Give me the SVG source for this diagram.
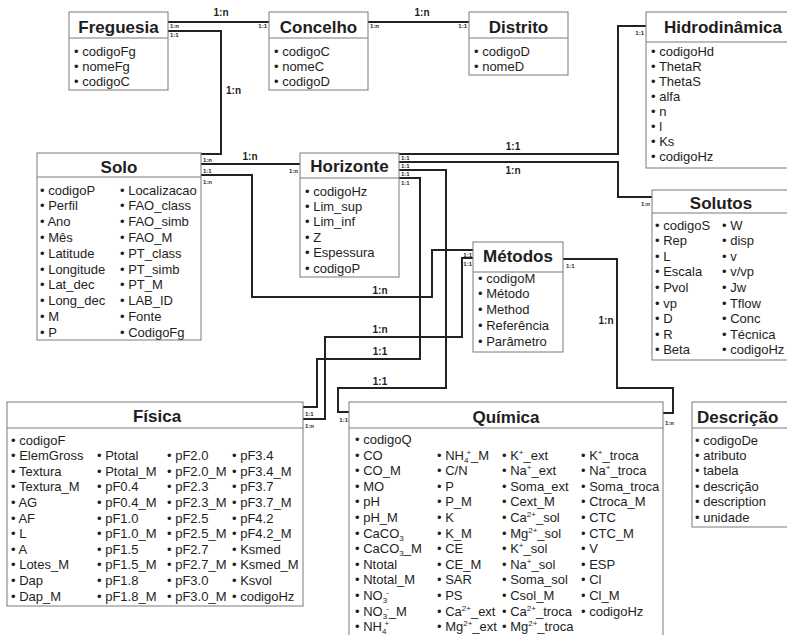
<svg xmlns="http://www.w3.org/2000/svg" width="787" height="635" viewBox="0 0 787 635">
<style>
.box{fill:#fff;stroke:#7a7a7a;stroke-width:1}
.hl{stroke:#7a7a7a;stroke-width:1}
.h{font:bold 17px "Liberation Sans",Arial,sans-serif;fill:#1e1e1e}
.t{font:13px "Liberation Sans",Arial,sans-serif;fill:#1e1e1e}
.b{font:bold 10px "Liberation Sans",Arial,sans-serif;fill:#1e1e1e}
.s{font:bold 6px "Liberation Sans",Arial,sans-serif;fill:#1e1e1e}
.c{fill:none;stroke:#222;stroke-width:2}
.m{text-anchor:middle}
.e{text-anchor:end}
.sb{font-size:8px;baseline-shift:-3px}
.sp{font-size:8px;baseline-shift:5px}
</style>
<rect width="787" height="635" fill="#fff"/>

<g id="connectors">
<path class="c" d="M168,22H269"/>
<path class="c" d="M368,22H469"/>
<path class="c" d="M168,31H221V154H201"/>
<path class="c" d="M201,164H300"/>
<path class="c" d="M201,175H252V297H432V250H473"/>
<path class="c" d="M399,154H618V26H646"/>
<path class="c" d="M399,162H618V197H652"/>
<path class="c" d="M399,170H446V388H338V412H349"/>
<path class="c" d="M399,178H420V359H317V407H303"/>
<path class="c" d="M473,258H462V337H325V419H303"/>
<path class="c" d="M563,259H617V388H673V413H663"/>
<text class="b m" x="221" y="16">1:n</text>
<text class="s" x="170" y="28">1:n</text>
<text class="s" x="170" y="37">1:1</text>
<text class="s e" x="267" y="28">1:1</text>
<text class="b m" x="422" y="16">1:n</text>
<text class="s" x="370" y="28">1:n</text>
<text class="s e" x="467" y="28">1:1</text>
<text class="b" x="226" y="94">1:n</text>
<text class="s" x="203" y="162">1:n</text>
<text class="b m" x="250" y="160">1:n</text>
<text class="s" x="203" y="173">1:1</text>
<text class="s e" x="298" y="173">1:n</text>
<text class="s" x="203" y="184">1:n</text>
<text class="b m" x="380" y="294">1:n</text>
<text class="s e" x="472" y="257">1:1</text>
<text class="b m" x="513" y="150">1:1</text>
<text class="s e" x="644" y="35">1:1</text>
<text class="b m" x="513" y="174">1:n</text>
<text class="s e" x="650" y="206">1:n</text>
<text class="s" x="401" y="160">1:1</text>
<text class="s" x="401" y="168">1:1</text>
<text class="s" x="401" y="176">1:1</text>
<text class="s" x="401" y="185">1:1</text>
<text class="b m" x="380" y="385">1:1</text>
<text class="s e" x="348" y="422">1:1</text>
<text class="b m" x="380" y="355">1:1</text>
<text class="s" x="305" y="416">1:1</text>
<text class="b m" x="380" y="333">1:n</text>
<text class="s e" x="472" y="266">1:1</text>
<text class="s" x="305" y="428">1:n</text>
<text class="b m" x="606" y="324">1:n</text>
<text class="s" x="566" y="268">1:1</text>
<text class="s" x="665" y="425">1:n</text>
</g>

<g id="freguesia">
<rect class="box" x="69" y="12" width="99" height="78"/>
<line class="hl" x1="69" y1="38" x2="168" y2="38"/>
<text class="h m" x="118.5" y="33">Freguesia</text>
<text class="t" x="74" y="56">• codigoFg</text>
<text class="t" x="74" y="71">• nomeFg</text>
<text class="t" x="74" y="86">• codigoC</text>
</g>

<g id="concelho">
<rect class="box" x="269" y="12" width="99" height="78"/>
<line class="hl" x1="269" y1="38" x2="368" y2="38"/>
<text class="h m" x="318.5" y="33">Concelho</text>
<text class="t" x="274" y="56">• codigoC</text>
<text class="t" x="274" y="71">• nomeC</text>
<text class="t" x="274" y="86">• codigoD</text>
</g>

<g id="distrito">
<rect class="box" x="469" y="12" width="99" height="63"/>
<line class="hl" x1="469" y1="38" x2="568" y2="38"/>
<text class="h m" x="518.5" y="33">Distrito</text>
<text class="t" x="474" y="56">• codigoD</text>
<text class="t" x="474" y="71">• nomeD</text>
</g>

<g id="hidrodinamica">
<rect class="box" x="646" y="12" width="150" height="156"/>
<line class="hl" x1="646" y1="42" x2="796" y2="42"/>
<text class="h m" x="723" y="33">Hidrodinâmica</text>
<text class="t" x="651" y="55.5"><tspan x="651">• codigoHd</tspan><tspan x="651" dy="15.1">• ThetaR</tspan><tspan x="651" dy="15.1">• ThetaS</tspan><tspan x="651" dy="15.1">• alfa</tspan><tspan x="651" dy="15.1">• n</tspan><tspan x="651" dy="15.1">• l</tspan><tspan x="651" dy="15.1">• Ks</tspan><tspan x="651" dy="15.1">• codigoHz</tspan></text>
</g>

<g id="solo">
<rect class="box" x="37" y="153" width="164" height="187"/>
<line class="hl" x1="37" y1="177" x2="201" y2="177"/>
<text class="h m" x="119" y="173">Solo</text>
<text class="t" x="40" y="194.5"><tspan x="40">• codigoP</tspan><tspan x="40" dy="15.8">• Perfil</tspan><tspan x="40" dy="15.8">• Ano</tspan><tspan x="40" dy="15.8">• Mês</tspan><tspan x="40" dy="15.8">• Latitude</tspan><tspan x="40" dy="15.8">• Longitude</tspan><tspan x="40" dy="15.8">• Lat_dec</tspan><tspan x="40" dy="15.8">• Long_dec</tspan><tspan x="40" dy="15.8">• M</tspan><tspan x="40" dy="15.8">• P</tspan></text>
<text class="t" x="120" y="194.5"><tspan x="120">• Localizacao</tspan><tspan x="120" dy="15.8">• FAO_class</tspan><tspan x="120" dy="15.8">• FAO_simb</tspan><tspan x="120" dy="15.8">• FAO_M</tspan><tspan x="120" dy="15.8">• PT_class</tspan><tspan x="120" dy="15.8">• PT_simb</tspan><tspan x="120" dy="15.8">• PT_M</tspan><tspan x="120" dy="15.8">• LAB_ID</tspan><tspan x="120" dy="15.8">• Fonte</tspan><tspan x="120" dy="15.8">• CodigoFg</tspan></text>
</g>

<g id="horizonte">
<rect class="box" x="300" y="153" width="99" height="124"/>
<line class="hl" x1="300" y1="178" x2="399" y2="178"/>
<text class="h m" x="349.5" y="172">Horizonte</text>
<text class="t" x="305" y="195.5"><tspan x="305">• codigoHz</tspan><tspan x="305" dy="15.4">• Lim_sup</tspan><tspan x="305" dy="15.4">• Lim_inf</tspan><tspan x="305" dy="15.4">• Z</tspan><tspan x="305" dy="15.4">• Espessura</tspan><tspan x="305" dy="15.4">• codigoP</tspan></text>
</g>

<g id="metodos">
<rect class="box" x="473" y="242" width="90" height="110"/>
<line class="hl" x1="473" y1="272" x2="563" y2="272"/>
<text class="h m" x="518" y="262">Métodos</text>
<text class="t" x="478" y="282.5"><tspan x="478">• codigoM</tspan><tspan x="478" dy="15.8">• Método</tspan><tspan x="478" dy="15.8">• Method</tspan><tspan x="478" dy="15.8">• Referência</tspan><tspan x="478" dy="15.8">• Parâmetro</tspan></text>
</g>

<g id="solutos">
<rect class="box" x="652" y="190" width="140" height="170"/>
<line class="hl" x1="652" y1="213" x2="792" y2="213"/>
<text class="h m" x="721" y="209">Solutos</text>
<text class="t" x="655" y="229.5"><tspan x="655">• codigoS</tspan><tspan x="655" dy="15.6">• Rep</tspan><tspan x="655" dy="15.6">• L</tspan><tspan x="655" dy="15.6">• Escala</tspan><tspan x="655" dy="15.6">• Pvol</tspan><tspan x="655" dy="15.6">• vp</tspan><tspan x="655" dy="15.6">• D</tspan><tspan x="655" dy="15.6">• R</tspan><tspan x="655" dy="15.6">• Beta</tspan></text>
<text class="t" x="722" y="229.5"><tspan x="722">• W</tspan><tspan x="722" dy="15.6">• disp</tspan><tspan x="722" dy="15.6">• v</tspan><tspan x="722" dy="15.6">• v/vp</tspan><tspan x="722" dy="15.6">• Jw</tspan><tspan x="722" dy="15.6">• Tflow</tspan><tspan x="722" dy="15.6">• Conc</tspan><tspan x="722" dy="15.6">• Técnica</tspan><tspan x="722" dy="15.6">• codigoHz</tspan></text>
</g>

<g id="fisica">
<rect class="box" x="7" y="402" width="296" height="204"/>
<line class="hl" x1="7" y1="428" x2="303" y2="428"/>
<text class="h m" x="157" y="422">Física</text>
<text class="t" x="11" y="444.5"><tspan x="11">• codigoF</tspan><tspan x="11" dy="15.6">• ElemGross</tspan><tspan x="11" dy="15.6">• Textura</tspan><tspan x="11" dy="15.6">• Textura_M</tspan><tspan x="11" dy="15.6">• AG</tspan><tspan x="11" dy="15.6">• AF</tspan><tspan x="11" dy="15.6">• L</tspan><tspan x="11" dy="15.6">• A</tspan><tspan x="11" dy="15.6">• Lotes_M</tspan><tspan x="11" dy="15.6">• Dap</tspan><tspan x="11" dy="15.6">• Dap_M</tspan></text>
<text class="t" x="97" y="460.1"><tspan x="97">• Ptotal</tspan><tspan x="97" dy="15.6">• Ptotal_M</tspan><tspan x="97" dy="15.6">• pF0.4</tspan><tspan x="97" dy="15.6">• pF0.4_M</tspan><tspan x="97" dy="15.6">• pF1.0</tspan><tspan x="97" dy="15.6">• pF1.0_M</tspan><tspan x="97" dy="15.6">• pF1.5</tspan><tspan x="97" dy="15.6">• pF1.5_M</tspan><tspan x="97" dy="15.6">• pF1.8</tspan><tspan x="97" dy="15.6">• pF1.8_M</tspan></text>
<text class="t" x="167" y="460.1"><tspan x="167">• pF2.0</tspan><tspan x="167" dy="15.6">• pF2.0_M</tspan><tspan x="167" dy="15.6">• pF2.3</tspan><tspan x="167" dy="15.6">• pF2.3_M</tspan><tspan x="167" dy="15.6">• pF2.5</tspan><tspan x="167" dy="15.6">• pF2.5_M</tspan><tspan x="167" dy="15.6">• pF2.7</tspan><tspan x="167" dy="15.6">• pF2.7_M</tspan><tspan x="167" dy="15.6">• pF3.0</tspan><tspan x="167" dy="15.6">• pF3.0_M</tspan></text>
<text class="t" x="232" y="460.1"><tspan x="232">• pF3.4</tspan><tspan x="232" dy="15.6">• pF3.4_M</tspan><tspan x="232" dy="15.6">• pF3.7</tspan><tspan x="232" dy="15.6">• pF3.7_M</tspan><tspan x="232" dy="15.6">• pF4.2</tspan><tspan x="232" dy="15.6">• pF4.2_M</tspan><tspan x="232" dy="15.6">• Ksmed</tspan><tspan x="232" dy="15.6">• Ksmed_M</tspan><tspan x="232" dy="15.6">• Ksvol</tspan><tspan x="232" dy="15.6">• codigoHz</tspan></text>
</g>

<g id="quimica">
<rect class="box" x="349" y="402" width="314" height="250"/>
<line class="hl" x1="349" y1="428" x2="663" y2="428"/>
<text class="h m" x="506" y="423">Química</text>
<text class="t" x="355" y="444">• codigoQ</text>
<text class="t" x="355" y="459.6">• CO</text>
<text class="t" x="355" y="475.2">• CO_M</text>
<text class="t" x="355" y="490.8">• MO</text>
<text class="t" x="355" y="506.4">• pH</text>
<text class="t" x="355" y="522">• pH_M</text>
<text class="t" x="355" y="537.6">• CaCO<tspan class="sb">3</tspan></text>
<text class="t" x="355" y="553.2">• CaCO<tspan class="sb">3</tspan>_M</text>
<text class="t" x="355" y="568.8">• Ntotal</text>
<text class="t" x="355" y="584.4">• Ntotal_M</text>
<text class="t" x="355" y="600">• NO<tspan class="sb">3</tspan><tspan class="sp" dx="-1">-</tspan></text>
<text class="t" x="355" y="615.6">• NO<tspan class="sb">3</tspan><tspan class="sp" dx="-1">-</tspan>_M</text>
<text class="t" x="355" y="631.2">• NH<tspan class="sb">4</tspan><tspan class="sp" dx="-2">+</tspan></text>
<text class="t" x="437" y="459.6">• NH<tspan class="sb">4</tspan><tspan class="sp" dx="-2">+</tspan>_M</text>
<text class="t" x="437" y="475.2">• C/N</text>
<text class="t" x="437" y="490.8">• P</text>
<text class="t" x="437" y="506.4">• P_M</text>
<text class="t" x="437" y="522">• K</text>
<text class="t" x="437" y="537.6">• K_M</text>
<text class="t" x="437" y="553.2">• CE</text>
<text class="t" x="437" y="568.8">• CE_M</text>
<text class="t" x="437" y="584.4">• SAR</text>
<text class="t" x="437" y="600">• PS</text>
<text class="t" x="437" y="615.6">• Ca<tspan class="sp">2+</tspan>_ext</text>
<text class="t" x="437" y="631.2">• Mg<tspan class="sp">2+</tspan>_ext</text>
<text class="t" x="502" y="459.6">• K<tspan class="sp">+</tspan>_ext</text>
<text class="t" x="502" y="475.2">• Na<tspan class="sp">+</tspan>_ext</text>
<text class="t" x="502" y="490.8">• Soma_ext</text>
<text class="t" x="502" y="506.4">• Cext_M</text>
<text class="t" x="502" y="522">• Ca<tspan class="sp">2+</tspan>_sol</text>
<text class="t" x="502" y="537.6">• Mg<tspan class="sp">2+</tspan>_sol</text>
<text class="t" x="502" y="553.2">• K<tspan class="sp">+</tspan>_sol</text>
<text class="t" x="502" y="568.8">• Na<tspan class="sp">+</tspan>_sol</text>
<text class="t" x="502" y="584.4">• Soma_sol</text>
<text class="t" x="502" y="600">• Csol_M</text>
<text class="t" x="502" y="615.6">• Ca<tspan class="sp">2+</tspan>_troca</text>
<text class="t" x="502" y="631.2">• Mg<tspan class="sp">2+</tspan>_troca</text>
<text class="t" x="581" y="459.6">• K<tspan class="sp">+</tspan>_troca</text>
<text class="t" x="581" y="475.2">• Na<tspan class="sp">+</tspan>_troca</text>
<text class="t" x="581" y="490.8">• Soma_troca</text>
<text class="t" x="581" y="506.4">• Ctroca_M</text>
<text class="t" x="581" y="522">• CTC</text>
<text class="t" x="581" y="537.6">• CTC_M</text>
<text class="t" x="581" y="553.2">• V</text>
<text class="t" x="581" y="568.8">• ESP</text>
<text class="t" x="581" y="584.4">• Cl</text>
<text class="t" x="581" y="600">• Cl_M</text>
<text class="t" x="581" y="615.6">• codigoHz</text>
</g>

<g id="descricao">
<rect class="box" x="692" y="402" width="110" height="125"/>
<line class="hl" x1="692" y1="428" x2="802" y2="428"/>
<text class="h" x="697" y="423">Descrição</text>
<text class="t" x="695" y="444.5"><tspan x="695">• codigoDe</tspan><tspan x="695" dy="15.4">• atributo</tspan><tspan x="695" dy="15.4">• tabela</tspan><tspan x="695" dy="15.4">• descrição</tspan><tspan x="695" dy="15.4">• description</tspan><tspan x="695" dy="15.4">• unidade</tspan></text>
</g>
</svg>
